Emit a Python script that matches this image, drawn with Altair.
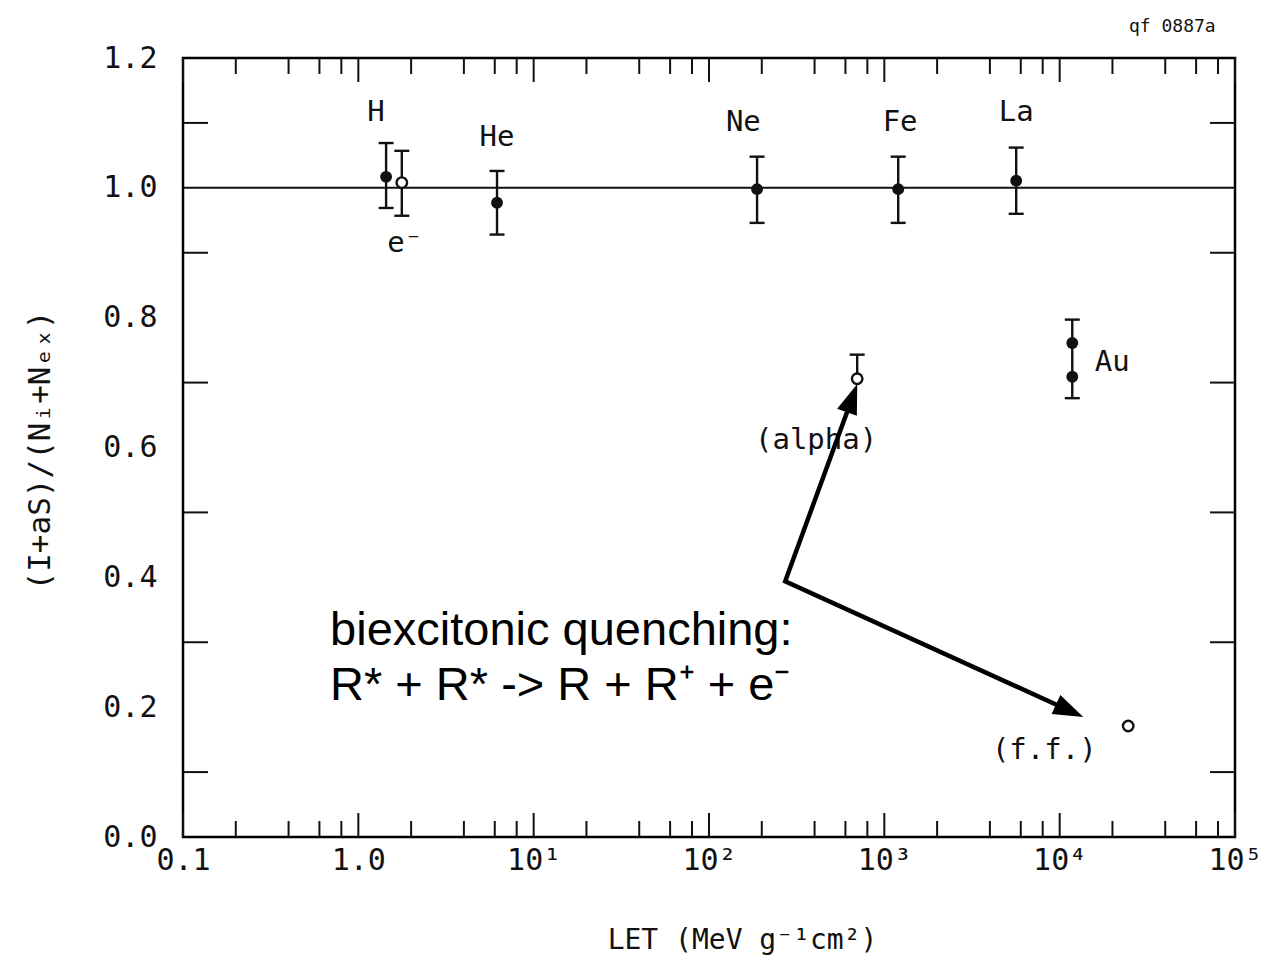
import altair as alt
import pandas as pd

# ---------------- data ----------------
pt_name = ["H", "e-", "He", "Ne", "Fe", "La", "alpha", "Au1", "Au2", "ff"]
pt_let = [1.44, 1.77, 6.18, 188, 1200, 5650, 700, 11800, 11800, 24600]
pt_ratio = [1.017, 1.008, 0.977, 0.998, 0.998, 1.011, 0.706, 0.761, 0.709, 0.171]
pt_open = [False, True, False, False, False, False, True, False, False, True]

err_let = [1.44, 1.77, 6.18, 188, 1200, 5650, 700, 11800]
err_lo = [0.969, 0.957, 0.928, 0.946, 0.946, 0.960, 0.706, 0.676]
err_hi = [1.069, 1.057, 1.026, 1.048, 1.048, 1.062, 0.743, 0.797]
err_lo_cap = [True, True, True, True, True, True, False, True]

lab_text = ["H", "He", "Ne", "Fe", "La", "e⁻", "Au", "(alpha)", "(f.f.)"]
lab_let = [1.26, 6.18, 157, 1230, 5650, 1.84, 19950, 408, 8170]
lab_ratio = [1.117, 1.079, 1.102, 1.102, 1.117, 0.915, 0.732, 0.612, 0.134]

anno_text = ["biexcitonic quenching:", "R* + R* -> R + R⁺ + e⁻"]
anno_let = [0.69, 0.69]
anno_ratio = [0.296, 0.211]

arrow_let = [655, 272, 11400]
arrow_ratio = [0.676, 0.394, 0.1945]
arrow_order = [0, 1, 2]
head_let = [655, 11400]
head_ratio = [0.676, 0.1945]
head_angle = [20, 114.5]

xtick_major = [0.1, 1, 10, 100, 1000, 10000, 100000]
xtick_labels = ["0.1", "1.0", "10¹", "10²", "10³", "10⁴", "10⁵"]
xtick_minor = [0.2, 0.4, 0.6, 0.8, 2, 4, 6, 8, 20, 40, 60, 80,
               200, 400, 600, 800, 2000, 4000, 6000, 8000,
               20000, 40000, 60000, 80000]
ytick_vals = [0.1, 0.3, 0.5, 0.7, 0.9, 1.1]
ylabel_vals = [0.0, 0.2, 0.4, 0.6, 0.8, 1.0, 1.2]
ref_line = [1.0]

W, H = 1052, 779
INK = "#111111"
MONO = "DejaVu Sans Mono"

pts = pd.DataFrame({"name": pt_name, "x": pt_let, "y": pt_ratio, "open": pt_open})
errs = pd.DataFrame({"x": err_let, "lo": err_lo, "hi": err_hi, "cap": err_lo_cap})
labs = pd.DataFrame({"t": lab_text, "x": lab_let, "y": lab_ratio})
anno = pd.DataFrame({"t": anno_text, "x": anno_let, "y": anno_ratio})
arrow = pd.DataFrame({"x": arrow_let, "y": arrow_ratio, "o": arrow_order})
heads = pd.DataFrame({"x": head_let, "y": head_ratio, "a": head_angle})
xmaj = pd.DataFrame({"x": xtick_major})
xmin_ = pd.DataFrame({"x": xtick_minor})
yt = pd.DataFrame({"y": ytick_vals})
ref = pd.DataFrame({"y": ref_line})

xscale = alt.Scale(type="log", domain=[0.1, 100000], nice=False)
yscale = alt.Scale(domain=[0, 1.2], nice=False, zero=False)

lab_expr = " : ".join(
    f"datum.value < {v * 3} ? '{s}'" for v, s in zip(xtick_major[:-1], xtick_labels[:-1])
) + f" : '{xtick_labels[-1]}'"

xaxis = alt.Axis(values=xtick_major, labelExpr=lab_expr, title="LET (MeV g⁻¹cm²)",
                 titleX=559, titleY=103, titleBaseline="middle", titleAlign="center",
                 labelPadding=8, labelOverlap=False, labelFlush=False)
yaxis = alt.Axis(values=ylabel_vals, format=".1f", title="(I+aS)/(Nᵢ+Nₑₓ)",
                 titleX=-143, titleY=392, titleBaseline="middle", titleAlign="center",
                 titleAngle=-90, labelPadding=26, labelOverlap=False, titleFontSize=31)


def X(f="x"):
    return alt.X(f"{f}:Q", scale=xscale, axis=xaxis)


def Y(f="y"):
    return alt.Y(f"{f}:Q", scale=yscale, axis=yaxis)


base_pts = alt.Chart(pts[~pts.open]).mark_point(
    filled=True, shape="circle", size=140, color=INK, opacity=1
).encode(x=X(), y=Y())

open_pts = alt.Chart(pts[pts.open]).mark_point(
    filled=True, shape="circle", size=110, fill="white", stroke=INK, strokeWidth=2.4, opacity=1
).encode(x=X(), y=Y())

ref_rule = alt.Chart(ref).mark_rule(color=INK, strokeWidth=2).encode(y=Y())

err_rule = alt.Chart(errs).mark_rule(color=INK, strokeWidth=2.4).encode(
    x=X(), y=Y("lo"), y2="hi:Q")
cap_lo = alt.Chart(errs[errs.cap]).mark_tick(color=INK, orient="horizontal", size=15,
                                             thickness=2.4, opacity=1).encode(x=X(), y=Y("lo"))
cap_hi = alt.Chart(errs).mark_tick(color=INK, orient="horizontal", size=15, thickness=2.4,
                                   opacity=1).encode(x=X(), y=Y("hi"))

labels = alt.Chart(labs).mark_text(font=MONO, fontSize=29, color=INK, align="center",
                                   baseline="middle").encode(x=X(), y=Y(), text="t:N")

qf = alt.Chart(pd.DataFrame({"t": ["qf 0887a"], "x": [43900], "y": [1.247]})).mark_text(
    font=MONO, fontSize=18, color=INK, align="center", baseline="middle"
).encode(x=X(), y=Y(), text="t:N")

anno_txt = alt.Chart(anno).mark_text(font="Liberation Sans", fontSize=47, color="black",
                                     align="left", baseline="alphabetic").encode(
    x=X(), y=Y(), text="t:N")

arrow_line = alt.Chart(arrow).mark_line(color="black", strokeWidth=4.5, strokeJoin="miter").encode(
    x=X(), y=Y(), order="o:Q")
arrow_heads = alt.Chart(heads).mark_point(
    shape="M -0.7 1 L 0.7 1 L 0 -1 Z", filled=True, size=900, color="black", opacity=1
).encode(x=X(), y=Y(), angle=alt.Angle("a:Q", scale=None))

TL, ML, YL = 16, 24, 25
bt_min = alt.Chart(xmin_).mark_rule(color=INK, strokeWidth=2).encode(
    x=X(), y=alt.value(H), y2=alt.value(H - TL))
bt_maj = alt.Chart(xmaj).mark_rule(color=INK, strokeWidth=2).encode(
    x=X(), y=alt.value(H), y2=alt.value(H - ML))
tp_min = alt.Chart(xmin_).mark_rule(color=INK, strokeWidth=2).encode(
    x=X(), y=alt.value(0), y2=alt.value(TL))
tp_maj = alt.Chart(xmaj).mark_rule(color=INK, strokeWidth=2).encode(
    x=X(), y=alt.value(0), y2=alt.value(ML))
lt = alt.Chart(yt).mark_rule(color=INK, strokeWidth=2).encode(
    y=Y(), x=alt.value(0), x2=alt.value(YL))
rt = alt.Chart(yt).mark_rule(color=INK, strokeWidth=2).encode(
    y=Y(), x=alt.value(W), x2=alt.value(W - YL))

chart = alt.layer(
    base_pts, ref_rule, bt_min, bt_maj, tp_min, tp_maj, lt, rt,
    err_rule, cap_lo, cap_hi, open_pts, labels, qf,
    anno_txt, arrow_line, arrow_heads,
).properties(
    width=W, height=H,
    autosize=alt.AutoSizeParams(type="none"),
    padding={"left": 183, "top": 58, "right": 45, "bottom": 127},
    background="white",
).configure_view(
    stroke="black", strokeWidth=2.5
).configure_axis(
    domain=False, ticks=False, tickSize=0, grid=False,
    labelFont=MONO, labelFontSize=30, labelColor=INK,
    titleFont=MONO, titleFontSize=28, titleFontWeight="normal", titleColor=INK,
)

chart.save("out.html", embed_options={"renderer": "svg", "actions": False})
